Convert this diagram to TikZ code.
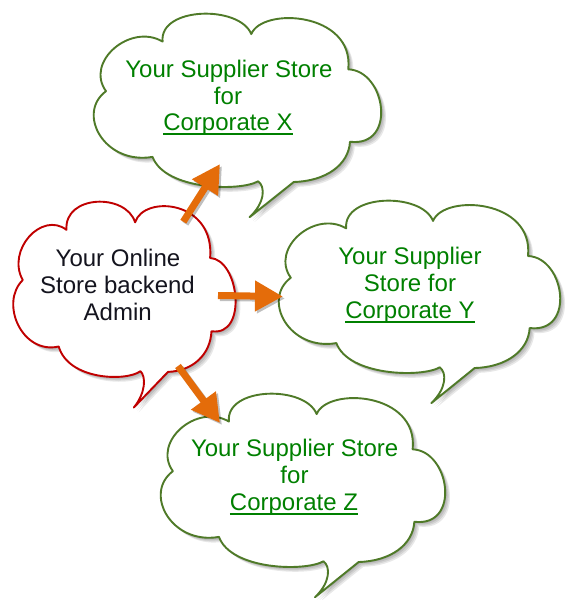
\documentclass[tikz,border=0pt]{standalone}
\usepackage{fontspec}
\setmainfont{Liberation Sans}
\usetikzlibrary{arrows.meta}
\definecolor{cloudgreen}{RGB}{79,122,40}
\definecolor{cloudred}{RGB}{192,0,0}
\definecolor{textgreen}{RGB}{0,128,0}
\definecolor{textdark}{RGB}{20,20,30}
\definecolor{arroworange}{RGB}{228,108,10}
\newcommand\cloudshape{(0.035,0.445) .. controls (-0.04,0.28) and (0.12,0.06) .. (0.232,0.166) .. controls (0.22,-0.03) and (0.50,-0.04) .. (0.541,0.124) .. controls (0.58,-0.03) and (0.90,0.0) .. (0.879,0.322) .. controls (1.01,0.33) and (1.05,0.76) .. (0.885,0.729) .. controls (0.88,0.86) and (0.80,0.95) .. (0.689,0.955) -- (0.535,1.153) .. controls (0.59,1.07) and (0.59,0.98) .. (0.565,0.951) .. controls (0.50,1.01) and (0.24,1.0) .. (0.197,0.814) .. controls (0.03,0.86) and (-0.07,0.57) .. cycle}
\newcommand\drawcloud[5]{%
  \foreach \s in {1.2,2.4,3.6,4.8}{%
    \begin{scope}[shift={({#1+\s},{#2+\s})},xscale=#3,yscale=#4]
      \fill[black,opacity=0.09] \cloudshape;
    \end{scope}}%
  \begin{scope}[shift={(#1,#2)},xscale=#3,yscale=#4]
    \path[draw=#5,fill=white,line width=1.9pt,line join=round] \cloudshape;
  \end{scope}}
\newcommand\myul[1]{\setbox0=\hbox{#1}\rlap{\copy0}\rule[-4.5pt]{\wd0}{2pt}}
\begin{document}
\begin{tikzpicture}[x=1pt,y=-1pt,
  txt/.style={font=\fontsize{24}{27}\selectfont, anchor=base, inner sep=0pt},
  gtxt/.style={txt, text=textgreen},
  dtxt/.style={txt, text=textdark},
  bigarrow/.style={draw=arroworange, line width=7pt, -{Triangle[length=28pt,width=29pt]}},
  shadowarrow/.style={draw=black, line width=7pt, -{Triangle[length=28pt,width=29pt]}}]
\useasboundingbox (0,0) rectangle (575,600);
\fill[white] (0,0) rectangle (575,600);
% clouds
\drawcloud{96}{12}{287}{178}{cloudgreen}
\drawcloud{281}{199}{281}{177}{cloudgreen}
\drawcloud{15}{200}{222}{180}{cloudred}
\drawcloud{163}{392}{284}{178}{cloudgreen}
% texts
\node[gtxt] (x1) at (229,77) {Your Supplier Store};
\node[gtxt] (x2) at (228,104) {for};
\node[gtxt] (x3) at (228,130.7) {\myul{Corporate X}};
\node[gtxt] (y1) at (410,264) {Your Supplier};
\node[gtxt] (y2) at (410,291) {Store for};
\node[gtxt] (y3) at (410,318.3) {\myul{Corporate Y}};
\node[dtxt] (r1) at (118,266.7) {Your Online};
\node[dtxt] (r2) at (117.5,293.3) {Store backend};
\node[dtxt] (r3) at (117.7,320) {Admin};
\node[gtxt] (z1) at (294.7,456) {Your Supplier Store};
\node[gtxt] (z2) at (294.5,483.3) {for};
\node[gtxt] (z3) at (294,510) {\myul{Corporate Z}};
% arrows
\coordinate (a1s) at (183.3,221.7);
\coordinate (a1e) at (220,164);
\coordinate (a2s) at (218,295.5);
\coordinate (a2e) at (283,296.5);
\coordinate (a3s) at (178,366);
\coordinate (a3e) at (220,423);
\begin{scope}[transparency group, opacity=0.25]
  \begin{scope}[transform canvas={shift={(2pt,-2pt)}}]
    \draw[shadowarrow] (a1s) -- (a1e);
    \draw[shadowarrow] (a2s) -- (a2e);
    \draw[shadowarrow] (a3s) -- (a3e);
  \end{scope}
\end{scope}
\draw[bigarrow] (a1s) -- (a1e);
\draw[bigarrow] (a2s) -- (a2e);
\draw[bigarrow] (a3s) -- (a3e);
\end{tikzpicture}
\end{document}
